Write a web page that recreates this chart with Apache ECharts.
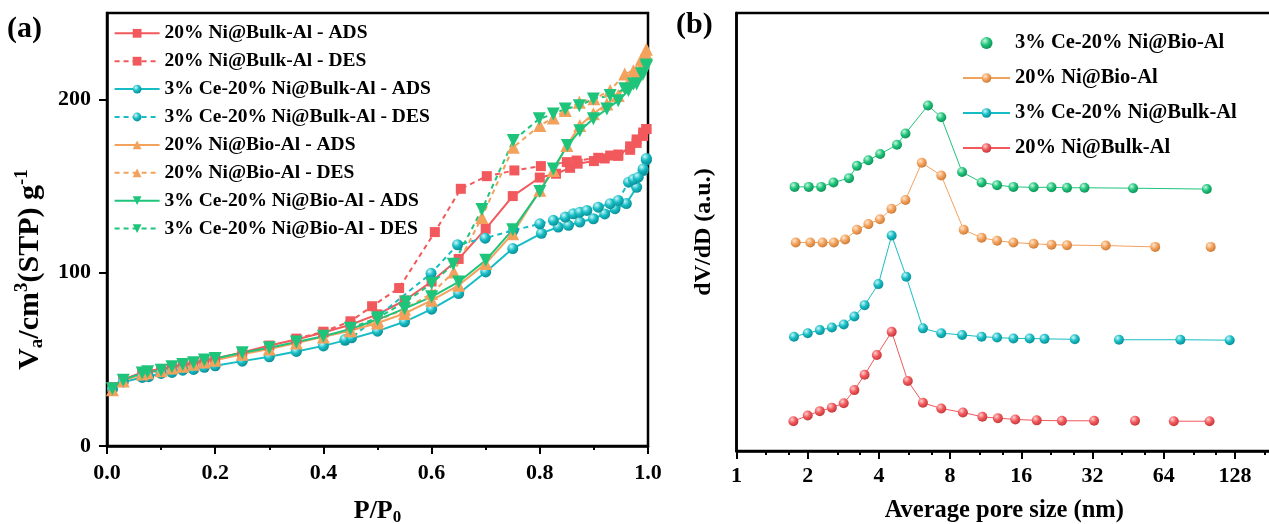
<!DOCTYPE html>
<html><head><meta charset="utf-8">
<script src="https://cdn.jsdelivr.net/npm/echarts@6/dist/echarts.min.js"></script>
<style>html,body{margin:0;padding:0;background:#fff}#c{width:1269px;height:524px}</style>
</head><body><div id="c"></div>
<script>
// ---------- Panel (a): N2 isotherms, [P/P0, Va (cm3 STP/g)] ----------
const bulkNiADS = [[0.01,34],[0.03,38.5],[0.065,42.5],[0.075,43.3],[0.1,44.5],[0.12,45.8],[0.14,47],[0.16,48],[0.18,49.2],[0.2,50.5],[0.25,54],[0.3,58],[0.35,61.5],[0.4,65.5],[0.45,70],[0.5,76],[0.55,84],[0.6,95],[0.65,108],[0.7,125.4],[0.75,144.3],[0.8,155],[0.83,157.2],[0.856,160.6],[0.87,163],[0.9,164.5],[0.92,166],[0.945,167.5],[0.967,173],[0.979,177],[0.991,181],[0.997,183]];
const bulkNiDES = [[0.35,62],[0.4,66],[0.45,72],[0.49,80.7],[0.54,91.2],[0.606,123.5],[0.654,148.5],[0.702,155.8],[0.753,159.1],[0.802,161.6],[0.85,163.9],[0.868,164.8],[0.908,166.4],[0.93,167.7],[0.945,168.3],[0.967,171],[0.979,175],[0.991,179],[0.997,183]];
const bulkCeADS = [[0.01,33],[0.03,37],[0.065,39.6],[0.077,40],[0.1,41.9],[0.12,42.5],[0.14,43.8],[0.16,44.2],[0.18,45.4],[0.2,46.3],[0.25,49],[0.3,51.5],[0.35,54.6],[0.4,57.8],[0.44,61],[0.5,66.3],[0.55,71.7],[0.6,79],[0.65,88],[0.7,100.5],[0.75,114],[0.803,122.8],[0.834,126.4],[0.853,127.4],[0.874,129.3],[0.899,131.2],[0.92,134],[0.939,137],[0.96,140],[0.979,149.4],[0.991,159],[0.997,165]];
const bulkCeDES = [[0.44,61.5],[0.452,62.5],[0.599,99.7],[0.648,116.2],[0.699,120],[0.751,124.5],[0.8,128.3],[0.825,130.3],[0.847,132.2],[0.862,134.1],[0.874,135],[0.887,136],[0.908,137.9],[0.93,139.9],[0.945,141.8],[0.964,152.3],[0.973,154],[0.982,155.2],[0.991,160],[0.997,166]];
const bioNiADS = [[0.01,32.5],[0.03,37.5],[0.065,41.5],[0.075,42.3],[0.1,43.5],[0.12,45],[0.14,46],[0.16,47.2],[0.18,48.5],[0.2,49.5],[0.25,53],[0.3,56],[0.35,59.5],[0.4,63],[0.45,66.5],[0.5,71],[0.55,76.5],[0.6,84.1],[0.65,92.8],[0.7,105.3],[0.75,122.6],[0.8,147.6],[0.825,159],[0.85,173.5],[0.874,185],[0.899,191.8],[0.924,197.5],[0.945,202.3],[0.964,210],[0.979,214.8],[0.991,221.5],[0.997,226]];
const bioNiDES = [[0.45,67],[0.5,72.5],[0.55,79],[0.6,88],[0.641,100.5],[0.693,132],[0.751,172.5],[0.8,185],[0.825,189.4],[0.847,193.7],[0.873,198.4],[0.9,200.5],[0.93,205.2],[0.957,214.8],[0.973,216.7],[0.988,223.5],[0.997,229]];
const bioCeADS = [[0.01,33],[0.03,38],[0.065,42.2],[0.075,42.8],[0.1,43.8],[0.12,45.7],[0.14,47],[0.16,48],[0.18,49.6],[0.2,50.5],[0.25,53.8],[0.3,56.7],[0.35,60.1],[0.4,63.4],[0.45,67.5],[0.5,73],[0.55,79.3],[0.6,86.1],[0.65,94.7],[0.7,107.2],[0.75,124.9],[0.8,147],[0.825,160],[0.851,173.5],[0.874,182],[0.899,188.9],[0.924,194.6],[0.945,199.4],[0.964,205.2],[0.979,209],[0.991,214.8],[0.997,219]];
const bioCeDES = [[0.45,68],[0.5,74],[0.552,83.2],[0.6,93.8],[0.64,104.9],[0.693,136.5],[0.751,176.4],[0.799,188.9],[0.825,191.7],[0.847,194.6],[0.873,196.5],[0.899,200.4],[0.93,202.3],[0.957,206.2],[0.973,209],[0.988,214.8],[0.997,220]];
const isoNames = ['20% Ni@Bulk-Al - ADS','20% Ni@Bulk-Al - DES','3% Ce-20% Ni@Bulk-Al - ADS','3% Ce-20% Ni@Bulk-Al - DES','20% Ni@Bio-Al - ADS','20% Ni@Bio-Al - DES','3% Ce-20% Ni@Bio-Al - ADS','3% Ce-20% Ni@Bio-Al - DES'];
const aYTicks = [0,100,200];

// ---------- Panel (b): pore size distribution, [nm, dV/dD a.u.] ----------
const psdBioCeD = [1.76,2.02,2.28,2.57,2.99,3.23,3.61,4.05,4.77,5.18,6.45,7.34,8.99,10.87,12.64,14.82,18.04,21.47,24.97,29.6,47.5,97.4];
const psdBioCeV = [60.3,60.3,60.3,61.3,62.3,65.1,66.4,67.8,69.9,72.5,78.9,76.2,63.7,61.3,60.7,60.3,60.2,60.2,60.1,60.1,60.0,59.8];
const psdBioNiD = [1.78,2.05,2.31,2.58,2.88,3.23,3.61,4.04,4.52,5.18,6.07,7.34,9.13,10.87,12.64,14.82,18.04,21.47,24.97,36.4,58.9,101.1];
const psdBioNiV = [47.6,47.6,47.6,47.6,48.3,50.5,51.8,52.9,55.3,57.3,65.8,62.9,50.5,48.7,48.0,47.6,47.3,47.1,47.0,46.9,46.6,46.6];
const psdBulkCeD = [1.75,2.0,2.25,2.53,2.84,3.15,3.48,3.98,4.53,5.22,6.14,7.34,8.99,10.87,12.64,14.82,17.36,20.06,26.93,41.4,75.3,121.7];
const psdBulkCeV = [26.1,26.9,27.6,28.2,28.9,30.7,33.3,38.1,49.2,39.8,28.0,26.9,26.5,26.1,25.9,25.7,25.7,25.6,25.5,25.4,25.4,25.3];
const psdBulkNiD = [1.74,2.0,2.25,2.53,2.84,3.15,3.48,3.92,4.53,5.3,6.14,7.34,9.06,10.95,12.74,15.09,18.59,23.76,32.5,48.4,70.6,100];
const psdBulkNiV = [6.8,8.1,9.1,9.9,10.9,13.9,17.4,21.9,27.2,16.0,11.0,9.7,8.8,7.8,7.5,7.2,7.0,6.9,6.9,6.9,6.8,6.8];
// line breaks (missing line segments) after these point indices
const psdBioNiGaps = [20];
const psdBulkCeGaps = [18];
const psdBulkNiGaps = [18, 19];
const psdNames = ['3% Ce-20% Ni@Bio-Al','20% Ni@Bio-Al','3% Ce-20% Ni@Bulk-Al','20% Ni@Bulk-Al'];
const bXTicks = [1,2,4,8,16,32,64,128];

const FONT = "'Liberation Serif','Times New Roman',serif";
const RED = '#F1595C', CYAN = '#17BDC5', ORANGE = '#F3A25E', GREEN = '#1FC47B';

function sphere(base, hi, lo) {
  return new echarts.graphic.RadialGradient(0.36, 0.32, 0.72, [
    {offset: 0, color: hi}, {offset: 0.5, color: base}, {offset: 1, color: lo}]);
}
const redS = sphere(RED, '#FFD0D0', '#C23639');
const cyanS = sphere(CYAN, '#C8F7F9', '#0A8C93');
const orangeS = sphere(ORANGE, '#FFE6CC', '#C97A35');
const greenS = sphere(GREEN, '#C6F7DE', '#0D8F55');

function zipPSD(d, v, gaps) {
  const out = [];
  d.forEach((x, i) => { out.push([x, v[i]]); if (gaps && gaps.indexOf(i) >= 0) out.push(['-', '-']); });
  return out;
}

function iso(name, data, color, symbol, size, dashed, rotate, fill) {
  return {
    name, type: 'line', xAxisIndex: 0, yAxisIndex: 0, data,
    symbol, symbolSize: size, symbolRotate: rotate || 0, showAllSymbol: true,
    lineStyle: {color, width: 2, type: dashed ? [5, 4] : 'solid'},
    itemStyle: {color: fill || color, borderWidth: 0},
    emphasis: {disabled: true}, clip: false, z: 3
  };
}
function psd(name, data, base, fill) {
  return {
    name, type: 'line', xAxisIndex: 1, yAxisIndex: 1, data,
    symbol: 'circle', symbolSize: 10, showAllSymbol: true, connectNulls: false,
    lineStyle: {color: base, width: 1},
    itemStyle: {color: fill, borderWidth: 0},
    emphasis: {disabled: true}, clip: false
  };
}

const tickLabel = {fontFamily: FONT, fontWeight: 'bold', fontSize: 22, color: '#000'};
const axLine = {show: true, lineStyle: {color: '#000', width: 2.5}};

const option = {
  animation: false,
  backgroundColor: '#fff',
  title: [
    {text: '(a)', left: 7, top: 14, padding: 0, textStyle: {fontFamily: FONT, fontWeight: 'bold', fontSize: 30, color: '#000'}},
    {text: '(b)', left: 676, top: 10, padding: 0, textStyle: {fontFamily: FONT, fontWeight: 'bold', fontSize: 30, color: '#000'}}
  ],
  grid: [
    {left: 107, top: 13, width: 541, height: 433, show: true, borderColor: '#000', borderWidth: 2.5, outerBoundsMode: 'none', containLabel: false},
    {left: 736.5, top: 13, width: 569.6, height: 438, show: true, borderColor: '#000', borderWidth: 2.5, outerBoundsMode: 'none', containLabel: false}
  ],
  legend: [
    {
      data: isoNames, orient: 'vertical', left: 108.6, top: 18.3,
      itemWidth: 45, itemHeight: 11, itemGap: 7.9, padding: 5,
      textStyle: {fontFamily: FONT, fontWeight: 'bold', fontSize: 19.5, color: '#000', lineHeight: 20},
      selectedMode: false
    },
    {
      data: [{name: psdNames[0], icon: 'circle'}, psdNames[1], psdNames[2], psdNames[3]],
      orient: 'vertical', left: 957, top: 27,
      itemWidth: 47, itemHeight: 12, itemGap: 13, padding: 5,
      textStyle: {fontFamily: FONT, fontWeight: 'bold', fontSize: 20.5, color: '#000', lineHeight: 22},
      selectedMode: false
    }
  ],
  xAxis: [
    {
      type: 'value', gridIndex: 0, min: 0, max: 1, interval: 0.2,
      axisLine: axLine,
      axisTick: {show: true, inside: false, length: 8, lineStyle: {color: '#000', width: 2}},
      minorTick: {show: true, splitNumber: 2, length: 4, lineStyle: {color: '#000', width: 2}},
      splitLine: {show: false}, minorSplitLine: {show: false},
      axisLabel: Object.assign({margin: 16, formatter: v => v.toFixed(1)}, tickLabel),
      name: '{b|P/P}{s|0}', nameLocation: 'middle', nameGap: 50,
      nameTextStyle: {fontFamily: FONT, fontWeight: 'bold', fontSize: 26, color: '#000',
        rich: {b: {fontFamily: FONT, fontWeight: 'bold', fontSize: 26, lineHeight: 30, color: '#000'},
               s: {fontFamily: FONT, fontWeight: 'bold', fontSize: 17, lineHeight: 17, verticalAlign: 'bottom', color: '#000'}}}
    },
    {
      type: 'log', logBase: 2, gridIndex: 1, min: 1, max: 256,
      axisLine: axLine,
      axisTick: {show: true, inside: false, length: 8, lineStyle: {color: '#000', width: 2}},
      minorTick: {show: true, splitNumber: 3, length: 4, lineStyle: {color: '#000', width: 2}},
      splitLine: {show: false}, minorSplitLine: {show: false},
      axisLabel: Object.assign({margin: 14, customValues: bXTicks, formatter: v => String(Math.round(v))}, tickLabel),
      name: 'Average pore size (nm)', nameLocation: 'middle', nameGap: 47,
      nameTextStyle: {fontFamily: FONT, fontWeight: 'bold', fontSize: 24.5, color: '#000', lineHeight: 26, padding: [0, 34, 0, 0]}
    }
  ],
  yAxis: [
    {
      type: 'value', gridIndex: 0, min: 0, max: 250, interval: 100,
      axisLine: axLine,
      axisTick: {show: true, inside: false, length: 8, customValues: aYTicks, lineStyle: {color: '#000', width: 2}},
      splitLine: {show: false},
      axisLabel: Object.assign({margin: 16, customValues: aYTicks}, tickLabel),
      name: '{b|V}{s|a}{b|/cm}{p|3}{b|(STP) g}{p|-1}', nameLocation: 'middle', nameRotate: 90, nameGap: 60,
      nameTextStyle: {fontFamily: FONT, fontWeight: 'bold', fontSize: 30, color: '#000', padding: [0, 80, 0, 0],
        rich: {b: {fontFamily: FONT, fontWeight: 'bold', fontSize: 30, lineHeight: 34, color: '#000'},
               s: {fontFamily: FONT, fontWeight: 'bold', fontSize: 19, lineHeight: 19, verticalAlign: 'bottom', color: '#000'},
               p: {fontFamily: FONT, fontWeight: 'bold', fontSize: 19, lineHeight: 19, verticalAlign: 'top', color: '#000'}}}
    },
    {
      type: 'value', gridIndex: 1, min: 0, max: 100,
      axisLine: axLine, axisTick: {show: false}, axisLabel: {show: false}, splitLine: {show: false},
      name: 'dV/dD (a.u.)', nameLocation: 'middle', nameRotate: 90, nameGap: 20,
      nameTextStyle: {fontFamily: FONT, fontWeight: 'bold', fontSize: 24, color: '#000', lineHeight: 26}
    }
  ],
  series: [
    iso(isoNames[0], bulkNiADS, RED, 'rect', 10, false),
    iso(isoNames[1], bulkNiDES, RED, 'rect', 10, true),
    iso(isoNames[2], bulkCeADS, CYAN, 'circle', 11, false, 0, cyanS),
    iso(isoNames[3], bulkCeDES, CYAN, 'circle', 11, true, 0, cyanS),
    iso(isoNames[4], bioNiADS, ORANGE, 'triangle', 13, false),
    iso(isoNames[5], bioNiDES, ORANGE, 'triangle', 13, true),
    iso(isoNames[6], bioCeADS, GREEN, 'triangle', 13, false, 180),
    iso(isoNames[7], bioCeDES, GREEN, 'triangle', 13, true, 180),
    psd(psdNames[0], zipPSD(psdBioCeD, psdBioCeV), GREEN, greenS),
    psd(psdNames[1], zipPSD(psdBioNiD, psdBioNiV, psdBioNiGaps), ORANGE, orangeS),
    psd(psdNames[2], zipPSD(psdBulkCeD, psdBulkCeV, psdBulkCeGaps), CYAN, cyanS),
    psd(psdNames[3], zipPSD(psdBulkNiD, psdBulkNiV, psdBulkNiGaps), RED, redS)
  ]
};
const chart = echarts.init(document.getElementById('c'), null, {renderer: 'canvas'});
chart.setOption(option);
</script>
</body></html>
